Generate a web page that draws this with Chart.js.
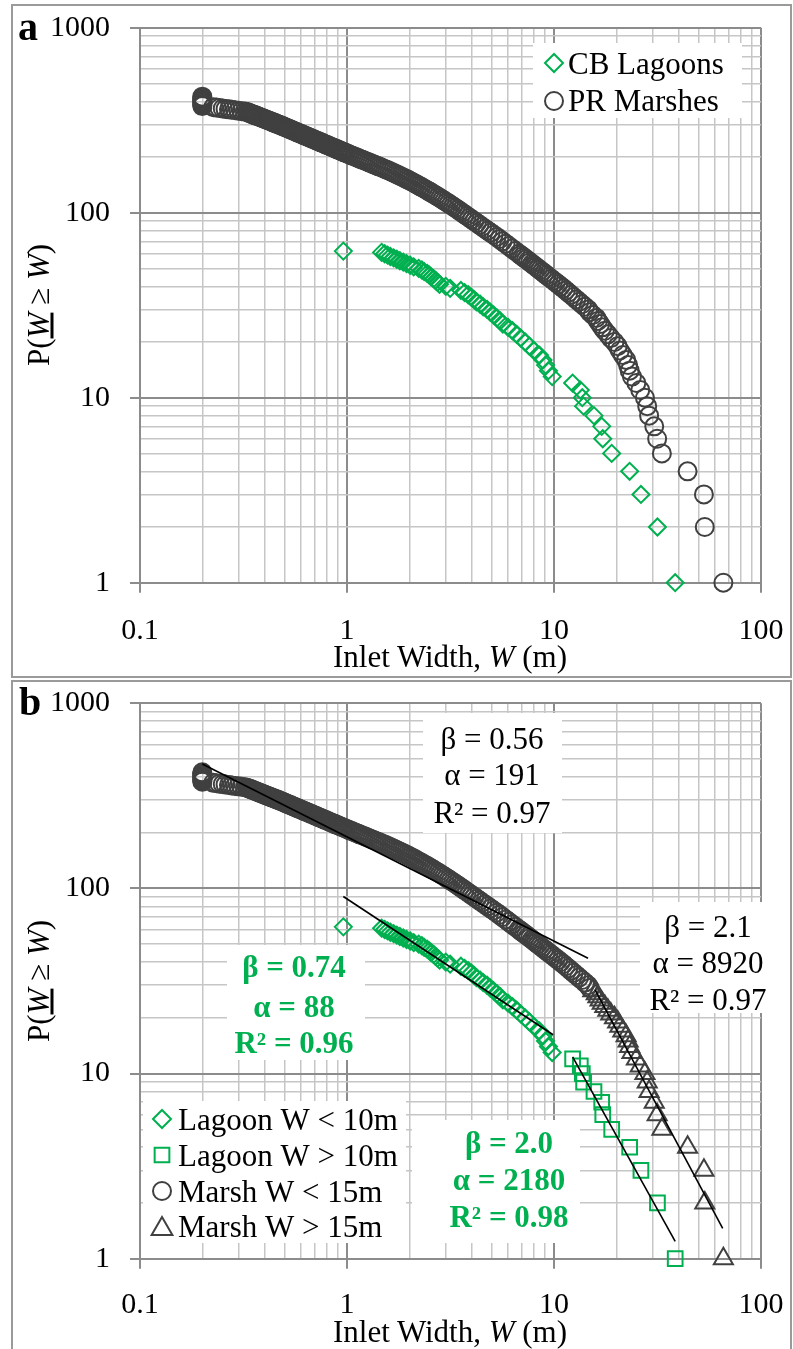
<!DOCTYPE html>
<html>
<head>
<meta charset="utf-8">
<script src="https://cdn.jsdelivr.net/npm/chart.js@4.4.1/dist/chart.umd.min.js"></script>
<style>
  html, body { margin: 0; padding: 0; background: #fff; }
  body { width: 793px; height: 1349px; position: relative; overflow: hidden; font-family: "Liberation Serif", "Times New Roman", serif; }
  .frame { position: absolute; box-sizing: border-box; border: 2px solid #9a9a9a; }
  canvas { position: absolute; left: 0; }
  .txt { position: absolute; white-space: nowrap; color: #000; font-size: 31px; line-height: 31px; }
  .xtitle { text-align: center; width: 600px; left: 150px; }
  .ytitle { transform: translate(-50%, -50%) rotate(-90deg); }
  .tag { font-weight: bold; font-size: 40px; line-height: 40px; }
</style>
</head>
<body>
<div class="frame" style="left:11px;top:4px;width:781px;height:674px"></div>
<div class="frame" style="left:11px;top:680px;width:781px;height:700px"></div>
<canvas id="chartA" width="793" height="680" style="top:0"></canvas>
<canvas id="chartB" width="793" height="669" style="top:680px"></canvas>
<div class="txt tag" style="left:18px;top:6.5px">a</div>
<div class="txt tag" style="left:19px;top:681.5px">b</div>
<div class="txt xtitle" style="top:641px">Inlet Width, <i>W</i> (m)</div>
<div class="txt xtitle" style="top:1316px">Inlet Width, <i>W</i> (m)</div>
<div class="txt ytitle" style="left:38px;top:305px">P(<i><u>W</u></i> ≥ <i>W</i>)</div>
<div class="txt ytitle" style="left:38px;top:981px">P(<i><u>W</u></i> ≥ <i>W</i>)</div>

<script>
// axis grid values and labels
const xGrid = [0.1,0.2,0.3,0.4,0.5,0.6,0.7,0.8,0.9,1,2,3,4,5,6,7,8,9,10,20,30,40,50,60,70,80,90,100];
const yGrid = [1,2,3,4,5,6,7,8,9,10,20,30,40,50,60,70,80,90,100,200,300,400,500,600,700,800,900,1000];
const xTickLabels = ['0.1', '1', '10', '100'];
const yTickLabels = ['1', '10', '100', '1000'];

// [inlet width (m), P(W >= w)]
const lagoonBelow10 = [
  [0.96,62],[1.47,61],[1.52,60],[1.57,59],[1.62,58],[1.68,57],[1.74,56],[1.80,55],[1.87,54],[1.94,53],
  [2.02,52],[2.10,51],[2.22,50],[2.30,49],[2.36,48],[2.44,47],[2.50,46],[2.55,45],[2.62,44],[2.68,43],
  [2.74,42],[2.80,41],[3.00,40],[3.15,39],[3.55,38],[3.70,37],[3.85,36],[3.98,35],[4.10,34],[4.22,33],
  [4.40,32],[4.55,31],[4.75,30],[4.92,29],[5.10,28],[5.30,27],[5.50,26],[5.66,25],[6.00,24],[6.30,23],
  [6.60,22],[6.90,21],[7.25,20],[7.60,19],[8.00,18],[8.50,17],[8.85,16],[9.10,15],[9.40,14],[9.80,13]
];
const lagoonAbove10 = [
  [12.3,12],[13.4,11],[13.7,10],[13.9,9],[15.6,8],[17.0,7],[17.2,6],[19.0,5],[23.2,4],[26.3,3],[31.6,2],[38.5,1]
];
const marshBelow15 = [
  [0.2,424],[0.2,418],[0.2,412],[0.2,406],[0.2,400],[0.2,394],[0.2,388],[0.2,382],[0.2,377],
  [0.226,372],[0.234,370],[0.242,368],[0.251,366],[0.259,364],[0.269,362],[0.278,360],[0.288,358],[0.299,356],[0.310,354],[0.321,352],
  [0.329,350],[0.333,348],[0.338,346],[0.342,344],[0.347,342],[0.351,340],[0.356,338],[0.361,336],[0.366,334],[0.371,332],
  [0.376,330],[0.381,328],[0.387,326],[0.392,324],[0.398,322],[0.403,320],[0.409,318],[0.415,316],[0.421,314],[0.427,312],
  [0.433,310],[0.440,308],[0.446,306],[0.453,304],[0.460,302],[0.467,300],[0.474,298],[0.481,296],[0.488,294],[0.495,292],
  [0.502,290],[0.509,288],[0.517,286],[0.525,284],[0.533,282],[0.541,280],[0.549,278],[0.557,276],[0.566,274],[0.575,272],
  [0.584,270],[0.593,268],[0.603,266],[0.612,264],[0.622,262],[0.632,260],[0.643,258],[0.653,256],[0.664,254],[0.675,252],
  [0.687,250],[0.699,248],[0.711,246],[0.723,244],[0.736,242],[0.748,240],[0.762,238],[0.775,236],[0.789,234],[0.803,232],
  [0.818,230],[0.833,228],[0.849,226],[0.865,224],[0.881,222],[0.898,220],[0.915,218],[0.933,216],[0.951,214],[0.970,212],
  [0.990,210],[1.011,208],[1.032,206],[1.055,204],[1.078,202],[1.101,200],[1.126,198],[1.151,196],[1.178,194],[1.205,192],
  [1.233,190],[1.262,188],[1.291,186],[1.322,184],[1.354,182],[1.387,180],[1.422,178],[1.458,176],[1.494,174],[1.530,172],
  [1.567,170],[1.606,168],[1.644,166],[1.684,164],[1.724,162],[1.765,160],[1.807,158],[1.850,156],[1.894,154],[1.939,152],
  [1.984,150],[2.031,148],[2.079,146],[2.128,144],[2.177,142],[2.228,140],[2.280,138],[2.334,136],[2.389,134],[2.445,132],
  [2.503,130],[2.562,128],[2.623,126],[2.686,124],[2.751,122],[2.817,120],[2.885,118],[2.955,116],[3.027,114],[3.101,112],
  [3.178,110],[3.257,108],[3.339,106],[3.424,104],[3.511,102],[3.601,100],[3.697,98],[3.795,96],[3.898,94],[4.006,92],
  [4.119,90],[4.238,88],[4.363,86],[4.495,84],[4.635,82],[4.782,80],[4.938,78],[5.104,76],[5.280,74],[5.454,72],
  [5.638,70],[5.835,68],[6.044,66],[6.268,64],[6.507,62],[6.764,60],[6.899,59],[7.040,58],[7.185,57],[7.337,56],
  [7.495,55],[7.660,54],[7.825,53],[7.997,52],[8.176,51],[8.362,50],[8.557,49],[8.761,48],[8.974,47],[9.196,46],
  [9.429,45],[9.674,44],[9.931,43],[10.20,42],[10.49,41],[10.78,40],[11.10,39],[11.40,38],[11.73,37],[12.07,36],
  [12.43,35],[12.81,34],[13.22,33],[13.65,32],[14.11,31],[14.60,30],[14.90,29]
];
const marshAbove15 = [
  [15.4,28],[16.0,27],[16.3,26],[16.7,25],[17.1,24],[17.6,23],[18.2,22],[18.8,21],[19.6,20],[20.3,19],
  [20.8,18],[21.5,17],[22.3,16],[22.8,15],[23.2,14],[23.8,13],[25.0,12],[26.1,11],[27.5,10],[28.2,9],
  [28.8,8],[30.5,7],[31.5,6],[33.2,5],[44.2,4],[53.0,3],[53.5,2],[65.8,1]
];

// power-law fit line end points
const fitMarshBelow15 = [[0.2, 470], [14.6, 42]];
const fitLagoonBelow10 = [[0.96, 90.5], [9.9, 16.2]];
const fitLagoonAbove10 = [[12.3, 12.3], [38.5, 1.24]];
const fitMarshAbove15 = [[15.8, 28.3], [65.3, 1.46]];

const legendA = ['CB Lagoons', 'PR Marshes'];
const legendB = ['Lagoon W < 10m', 'Lagoon W > 10m', 'Marsh W < 15m', 'Marsh W > 15m'];
const statsMarshBelow15 = ['β = 0.56', 'α = 191', 'R² = 0.97'];
const statsMarshAbove15 = ['β = 2.1', 'α = 8920', 'R² = 0.97'];
const statsLagoonBelow10 = ['β = 0.74', 'α = 88', 'R² = 0.96'];
const statsLagoonAbove10 = ['β = 2.0', 'α = 2180', 'R² = 0.98'];

const GREEN = '#00b050';
const DARK = '#404040';
const FONT = '"Liberation Serif", "Times New Roman", serif';
Chart.defaults.font.family = FONT;

const isDecade = v => Math.abs(Math.log10(v) - Math.round(Math.log10(v))) < 1e-6;
const major = c => c.tick && isDecade(c.tick.value);

const makeAxis = (axis, values, labels, size, pad) => ({
  type: 'logarithmic',
  position: axis === 'x' ? 'bottom' : 'left',
  min: values[0],
  max: values[values.length - 1],
  afterBuildTicks: s => { s.ticks = values.map(v => ({ value: v })); },
  afterFit: s => {
    if (axis === 'x') s.height = size; else s.width = size;
    // keep the plot area fixed; labels may overhang
    s.paddingTop = 0; s.paddingBottom = 0; s.paddingLeft = 0; s.paddingRight = 0;
  },
  ticks: {
    autoSkip: false,
    maxRotation: 0,
    padding: pad,
    color: '#000',
    font: { family: FONT, size: 30 },
    callback: v => labels.find(l => Math.abs(Number(l) - v) < 1e-9) ?? ''
  },
  grid: {
    color: c => major(c) ? '#8c8c8c' : '#c6c6c6',
    lineWidth: c => major(c) ? 2 : 1.5,
    tickColor: c => major(c) ? '#8c8c8c' : 'rgba(0,0,0,0)',
    tickLength: 10,
    tickWidth: 2
  },
  border: { color: '#8c8c8c', width: 2 }
});

const pts = arr => arr.map(([x, y]) => ({ x, y }));
const markers = (label, arr, style, color, r) => ({
  label, data: pts(arr), pointStyle: style, pointRadius: r,
  pointBorderColor: color, pointBackgroundColor: 'rgba(0,0,0,0)', pointBorderWidth: 2,
  showLine: false, clip: false, order: 1
});
const fitLine = arr => ({
  data: pts(arr), showLine: true, borderColor: '#000', borderWidth: 1.6,
  pointRadius: 0, clip: false, order: 0
});

const symbol = (ctx, style, x, y, r, color) => {
  ctx.beginPath();
  if (style === 'circle') {
    ctx.arc(x, y, r, 0, Math.PI * 2);
  } else if (style === 'rectRot') {
    ctx.moveTo(x - r, y); ctx.lineTo(x, y - r); ctx.lineTo(x + r, y); ctx.lineTo(x, y + r); ctx.closePath();
  } else if (style === 'rect') {
    const h = r * Math.SQRT1_2;
    ctx.rect(x - h, y - h, 2 * h, 2 * h);
  } else if (style === 'triangle') {
    ctx.moveTo(x, y - r); ctx.lineTo(x + r * 0.866, y + r / 2); ctx.lineTo(x - r * 0.866, y + r / 2); ctx.closePath();
  }
  ctx.strokeStyle = color;
  ctx.lineWidth = 2;
  ctx.stroke();
};

// white boxes, fit statistics and legend drawn over the grid
const makeOverlay = spec => ({
  id: 'overlay',
  beforeDatasetsDraw(chart) {
    const ctx = chart.ctx;
    ctx.save();
    spec.boxes.forEach(b => {
      ctx.fillStyle = '#fff';
      ctx.fillRect(b.x0, b.y0, b.x1 - b.x0, b.y1 - b.y0);
      if (b.lines) {
        ctx.font = (b.bold ? 'bold ' : '') + '31px ' + FONT;
        ctx.fillStyle = b.color;
        ctx.textAlign = 'center';
        ctx.textBaseline = 'alphabetic';
        b.lines.forEach((t, i) => ctx.fillText(t, b.cx, b.base[i]));
      }
    });
    spec.legend.forEach(it => {
      symbol(ctx, it.style, it.sx, it.sy, it.r, it.color);
      ctx.font = '31px ' + FONT;
      ctx.fillStyle = '#000';
      ctx.textAlign = 'left';
      ctx.textBaseline = 'alphabetic';
      ctx.fillText(it.text, it.tx, it.ty);
    });
    ctx.restore();
  }
});

const baseOptions = (padTop, xHeight, xPad) => ({
  responsive: false,
  animation: false,
  events: [],
  layout: { padding: { left: 0, right: 32, top: padTop, bottom: 0 } },
  scales: {
    x: makeAxis('x', xGrid, xTickLabels, xHeight, xPad),
    y: makeAxis('y', yGrid, yTickLabels, 140, 20)
  },
  plugins: { legend: { display: false }, tooltip: { enabled: false } }
});

// panel a
new Chart(document.getElementById('chartA'), {
  type: 'scatter',
  data: {
    datasets: [
      markers(legendA[0], [...lagoonBelow10, ...lagoonAbove10], 'rectRot', GREEN, 8.5),
      markers(legendA[1], [...marshBelow15, ...marshAbove15], 'circle', DARK, 9)
    ]
  },
  options: baseOptions(27.7, 97.3, 20),
  plugins: [makeOverlay({
    boxes: [{ x0: 533, y0: 43, x1: 742, y1: 118 }],
    legend: [
      { text: legendA[0], style: 'rectRot', color: GREEN, r: 9, sx: 554, sy: 63, tx: 568, ty: 74 },
      { text: legendA[1], style: 'circle', color: DARK, r: 9, sx: 554, sy: 101, tx: 568, ty: 111 }
    ]
  })]
});

// panel b (canvas starts at page y = 680)
new Chart(document.getElementById('chartB'), {
  type: 'scatter',
  data: {
    datasets: [
      fitLine(fitMarshBelow15),
      fitLine(fitLagoonBelow10),
      fitLine(fitLagoonAbove10),
      fitLine(fitMarshAbove15),
      markers(legendB[0], lagoonBelow10, 'rectRot', GREEN, 8.5),
      markers(legendB[1], lagoonAbove10, 'rect', GREEN, 10.4),
      markers(legendB[2], marshBelow15, 'circle', DARK, 9),
      markers(legendB[3], marshAbove15, 'triangle', DARK, 11)
    ]
  },
  options: baseOptions(23.3, 90.3, 18),
  plugins: [makeOverlay({
    boxes: [
      { x0: 423, y0: 33, x1: 562, y1: 153, lines: statsMarshBelow15, color: '#000', cx: 492, base: [68.5, 105, 142.5] },
      { x0: 640, y0: 222, x1: 778, y1: 333, lines: statsMarshAbove15, color: '#000', cx: 708, base: [256.7, 293, 330] },
      { x0: 227, y0: 265, x1: 365, y1: 380, lines: statsLagoonBelow10, color: GREEN, bold: true, cx: 294, base: [296.7, 336.5, 373] },
      { x0: 412, y0: 440, x1: 580, y1: 563, lines: statsLagoonAbove10, color: GREEN, bold: true, cx: 509, base: [473, 510, 546.5] },
      { x0: 143, y0: 421, x1: 406, y1: 563 }
    ],
    legend: [
      { text: legendB[0], style: 'rectRot', color: GREEN, r: 9, sx: 162, sy: 439, tx: 178, ty: 450 },
      { text: legendB[1], style: 'rect', color: GREEN, r: 10.4, sx: 162, sy: 475, tx: 178, ty: 485.5 },
      { text: legendB[2], style: 'circle', color: DARK, r: 9, sx: 162, sy: 511, tx: 178, ty: 521.5 },
      { text: legendB[3], style: 'triangle', color: DARK, r: 12, sx: 162, sy: 549, tx: 178, ty: 556.5 }
    ]
  })]
});
</script>
</body>
</html>
